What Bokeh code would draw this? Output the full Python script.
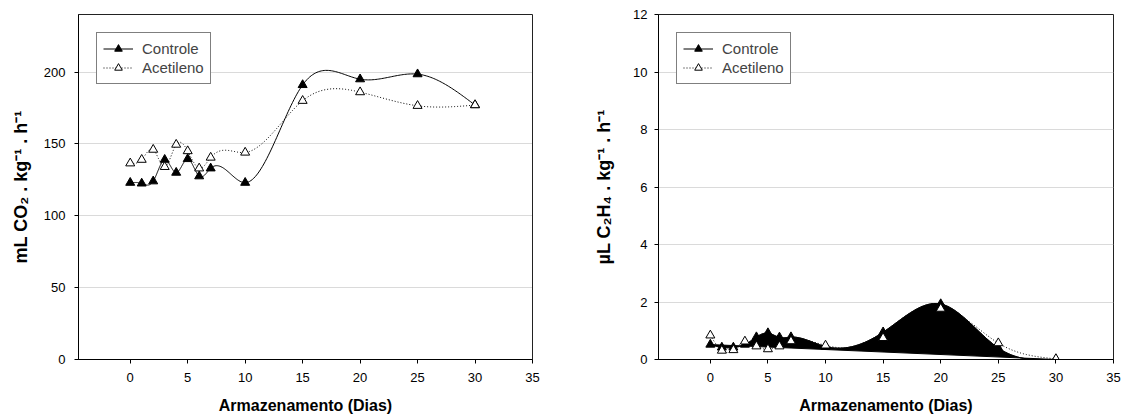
import numpy as np
from bokeh.plotting import figure
from bokeh.models import FixedTicker, Legend, LegendItem
from bokeh.layouts import row
from bokeh.embed import file_html
from bokeh.resources import INLINE

# ---- data ----
days = [0, 1, 2, 3, 4, 5, 6, 7, 10, 15, 20, 25, 30]
co2_controle = [123, 122.5, 124, 139, 130, 139.5, 127.5, 133, 123, 191, 195, 198.5, 177]
co2_acetileno = [136.5, 139, 146, 134, 149.5, 145, 133, 140.5, 144, 180, 186, 176.5, 177]
c2h4_controle = [0.52, 0.42, 0.42, 0.52, 0.78, 0.92, 0.77, 0.78, 0.45, 0.95, 1.93, 0.40, 0.0]
c2h4_acetileno = [0.84, 0.31, 0.33, 0.63, 0.46, 0.36, 0.46, 0.64, 0.49, 0.75, 1.77, 0.57, 0.02]
x_ticks = [0, 5, 10, 15, 20, 25, 30, 35]
co2_ticks = [0, 50, 100, 150, 200]
c2h4_ticks = [0, 2, 4, 6, 8, 10, 12]
series_labels = ["Controle", "Acetileno"]
x_label = "Armazenamento (Dias)"
co2_label = "mL CO\u2082 . kg\u207b\u00b9 . h\u207b\u00b9"
c2h4_label = "\u00b5L C\u2082H\u2084 . kg\u207b\u00b9 . h\u207b\u00b9"

FONT = "Liberation Sans"
TOP = 14          # space above the plot frames
FRAME_H = 345     # plot frame height


def spline(xs, ys, n=40):
    """Natural cubic spline through the data points (line rendering only)."""
    x = np.asarray(xs, float)
    y = np.asarray(ys, float)
    k = len(x)
    h = np.diff(x)
    A = np.zeros((k, k))
    b = np.zeros(k)
    A[0, 0] = A[-1, -1] = 1
    for i in range(1, k - 1):
        A[i, i - 1] = h[i - 1]
        A[i, i] = 2 * (h[i - 1] + h[i])
        A[i, i + 1] = h[i]
        b[i] = 6 * ((y[i + 1] - y[i]) / h[i] - (y[i] - y[i - 1]) / h[i - 1])
    M = np.linalg.solve(A, b)
    xx, yy = [], []
    for i in range(k - 1):
        t = np.linspace(x[i], x[i + 1], n, endpoint=(i == k - 2))
        a = x[i + 1] - t
        c = t - x[i]
        s = ((M[i] * a ** 3 + M[i + 1] * c ** 3) / (6 * h[i])
             + (y[i] / h[i] - M[i] * h[i] / 6) * a
             + (y[i + 1] / h[i] - M[i + 1] * h[i] / 6) * c)
        xx.extend(t.tolist())
        yy.extend(s.tolist())
    return xx, yy


def make_fig(frame_w, yrange, yticks, ylabel, br, label_standoff, title_standoff):
    p = figure(frame_width=frame_w, frame_height=FRAME_H, x_range=(-4.5, 35), y_range=yrange,
               output_backend="svg", toolbar_location=None,
               min_border_left=78, min_border_right=br,
               min_border_top=TOP, min_border_bottom=0)
    p.background_fill_color = "white"
    p.outline_line_color = "#222222"
    p.outline_line_width = 1
    p.xgrid.visible = False
    p.ygrid.ticker = FixedTicker(ticks=[t for t in yticks if t != 0], minor_ticks=[])
    p.ygrid.grid_line_color = "#b4b4b4"
    p.ygrid.grid_line_dash = "1 1"
    p.ygrid.grid_line_width = 1
    p.xaxis.ticker = FixedTicker(ticks=x_ticks, minor_ticks=[])
    p.yaxis.ticker = FixedTicker(ticks=yticks, minor_ticks=[])
    for ax in (p.xaxis, p.yaxis):
        ax.axis_line_color = "black"
        ax.axis_line_width = 1
        ax.major_tick_in = 0
        ax.major_tick_out = 4
        ax.major_tick_line_color = "black"
        ax.minor_tick_line_color = None
        ax.major_label_text_font = FONT
        ax.major_label_text_font_size = "13px"
        ax.major_label_text_color = "black"
        ax.axis_label_text_font = FONT
        ax.axis_label_text_font_style = "bold"
        ax.axis_label_text_color = "black"
    p.xaxis.axis_label = x_label
    p.xaxis.axis_label_text_font_size = "16px"
    p.xaxis.major_label_standoff = 9
    p.xaxis.axis_label_standoff = 12
    p.yaxis.axis_label = ylabel
    p.yaxis.axis_label_text_font_size = "18px"
    p.yaxis.major_label_standoff = label_standoff
    p.yaxis.axis_label_standoff = title_standoff
    return p


def add_legend(p, items):
    leg = Legend(items=items, location="top_left", margin=18,
                 border_line_color="black", border_line_width=1,
                 background_fill_color="white", background_fill_alpha=1,
                 label_text_font=FONT, label_text_font_size="15px",
                 glyph_width=30, glyph_height=19, label_height=19,
                 spacing=0, padding=6, label_standoff=9)
    p.add_layout(leg)


# ---- CO2 plot ----
p1 = make_fig(454, (0, 240), co2_ticks, co2_label, 48, 9, 10)
cx, cy = spline(days, co2_controle)
l1 = p1.line(cx, cy, line_color="black", line_width=1)
s1 = p1.scatter(days, co2_controle, marker="triangle", size=9,
                fill_color="black", line_color="black")
ax_, ay_ = spline(days, co2_acetileno)
l2 = p1.line(ax_, ay_, line_color="black", line_width=1, line_dash="1 2")
s2 = p1.scatter(days, co2_acetileno, marker="triangle", size=9,
                fill_color="white", line_color="black", line_width=1)
add_legend(p1, [LegendItem(label=series_labels[0], renderers=[l1, s1]),
                LegendItem(label=series_labels[1], renderers=[l2, s2])])

# ---- C2H4 plot ----
p2 = make_fig(455, (0, 12), c2h4_ticks, c2h4_label, 9, 7, 16)
ex, ey = spline(days, c2h4_controle)
p2.patch(ex, ey, fill_color="black", line_color="black", line_width=1)
l3 = p2.line(ex, ey, line_color="black", line_width=1)
s3 = p2.scatter(days, c2h4_controle, marker="triangle", size=9,
                fill_color="black", line_color="black")
fx, fy = spline(days, c2h4_acetileno)
l4 = p2.line(fx, fy, line_color="black", line_width=1, line_dash="1 2")
s4 = p2.scatter(days, c2h4_acetileno, marker="triangle", size=9,
                fill_color="white", line_color="black", line_width=1)
add_legend(p2, [LegendItem(label=series_labels[0], renderers=[l3, s3]),
                LegendItem(label=series_labels[1], renderers=[l4, s4])])

layout = row(p1, p2)
open("out.html", "w").write(file_html(layout, INLINE))
